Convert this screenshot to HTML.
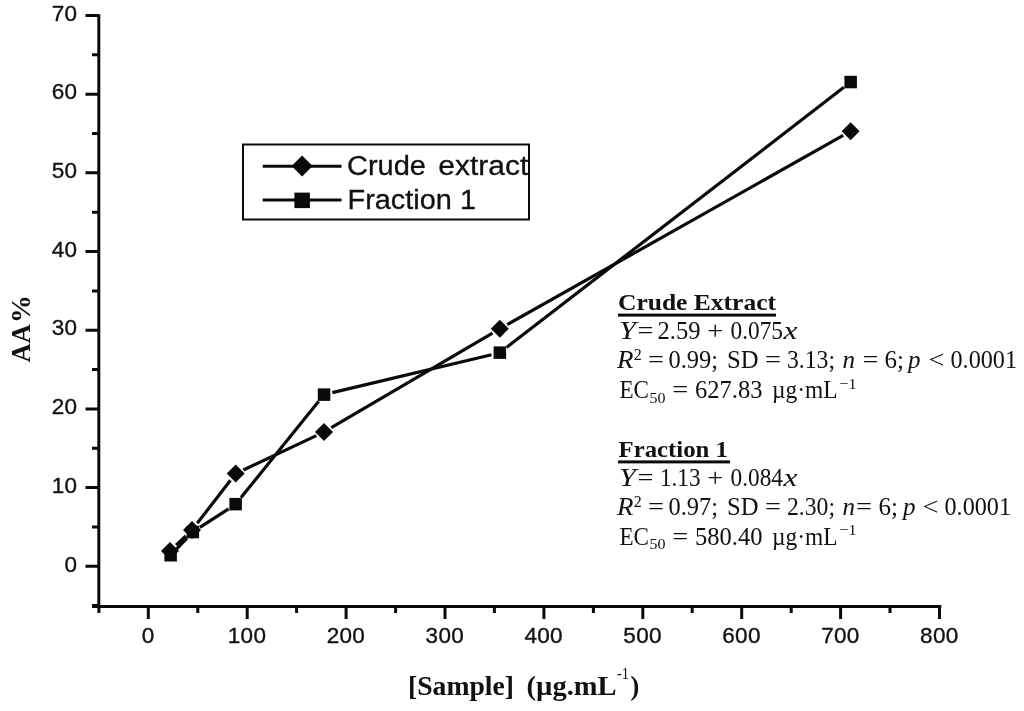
<!DOCTYPE html>
<html lang="en"><head><meta charset="utf-8"><title>AA % vs [Sample]</title>
<style>html,body{margin:0;padding:0;background:#fff}body{width:1024px;height:711px;overflow:hidden}svg{display:block}.a{font-family:"Liberation Sans",Arial,sans-serif;font-size:22.5px;fill:#111;stroke:#111;stroke-width:.35px;letter-spacing:.3px}.lg{font-family:"Liberation Sans",Arial,sans-serif;font-size:27px;fill:#111;stroke:#111;stroke-width:.3px}.t{font-family:"Liberation Serif","Times New Roman",serif;font-size:25px;fill:#111}.h{font-size:24px}.b{font-weight:bold}.i{font-style:italic}</style></head><body>
<svg width="1024" height="711" viewBox="0 0 1024 711">
<rect width="1024" height="711" fill="#fff"/>
<g stroke="#0a0a0a" stroke-width="3" fill="none" stroke-linecap="butt">
<path d="M98.8 14.2V607.9"/>
<path d="M92 606.4H941.3"/>
<path d="M85.5 566.2H98.8M85.5 487.6H98.8M85.5 408.9H98.8M85.5 330.2H98.8M85.5 251.5H98.8M85.5 172.8H98.8M85.5 94.2H98.8M85.5 15.5H98.8M92 605.6H98.8M92 526.9H98.8M92 448.2H98.8M92 369.5H98.8M92 290.9H98.8M92 212.2H98.8M92 133.5H98.8M92 54.8H98.8M148.3 606.4V619M247.2 606.4V619M346.1 606.4V619M445.0 606.4V619M543.9 606.4V619M642.8 606.4V619M741.7 606.4V619M840.6 606.4V619M939.5 606.4V619M98.9 606.4V613M197.8 606.4V613M296.6 606.4V613M395.6 606.4V613M494.4 606.4V613M593.4 606.4V613M692.2 606.4V613M791.2 606.4V613M890.0 606.4V613"/>
</g>
<g class="a" text-anchor="end">
<text x="77.3" y="571.5">0</text>
<text x="77.3" y="492.8">10</text>
<text x="77.3" y="414.1">20</text>
<text x="77.3" y="335.4">30</text>
<text x="77.3" y="256.7">40</text>
<text x="77.3" y="178.0">50</text>
<text x="77.3" y="99.4">60</text>
<text x="77.3" y="20.7">70</text>
</g>
<g class="a" text-anchor="middle">
<text x="148.1" y="643.2">0</text>
<text x="247.0" y="643.2">100</text>
<text x="345.9" y="643.2">200</text>
<text x="444.8" y="643.2">300</text>
<text x="543.7" y="643.2">400</text>
<text x="642.6" y="643.2">500</text>
<text x="741.5" y="643.2">600</text>
<text x="840.4" y="643.2">700</text>
<text x="939.3" y="643.2">800</text>
</g>
<g stroke="#0a0a0a" stroke-width="3.2" fill="none">
<path d="M176.1 545.1L185.9 535.9M197.2 523.3L230.5 480.3M243.4 470.0L316.3 435.6M331.3 427.7L492.5 333.1M507.2 324.6L843.2 135.4"/>
<path d="M176.5 549.1L187.0 538.2M199.9 527.4L228.6 508.8M241.0 497.6L318.7 401.2M332.3 392.6L491.5 354.7M506.5 347.5L843.9 87.3"/>
</g>
<g fill="#0a0a0a">
<path d="M161.0 551.0L170.0 542.0L179.0 551.0L170.0 560.0Z"/>
<path d="M183.0 530.0L192.0 521.0L201.0 530.0L192.0 539.0Z"/>
<path d="M226.7 473.6L235.7 464.6L244.7 473.6L235.7 482.6Z"/>
<path d="M315.0 432.0L324.0 423.0L333.0 432.0L324.0 441.0Z"/>
<path d="M490.8 328.8L499.8 319.8L508.8 328.8L499.8 337.8Z"/>
<path d="M841.6 131.2L850.6 122.2L859.6 131.2L850.6 140.2Z"/>
<rect x="164.4" y="549.0" width="12.5" height="12.5"/>
<rect x="186.6" y="525.8" width="12.5" height="12.5"/>
<rect x="229.4" y="497.9" width="12.5" height="12.5"/>
<rect x="317.8" y="388.4" width="12.5" height="12.5"/>
<rect x="493.6" y="346.4" width="12.5" height="12.5"/>
<rect x="844.4" y="75.8" width="12.5" height="12.5"/>
</g>
<rect x="243" y="144.5" width="286" height="75" fill="none" stroke="#0a0a0a" stroke-width="2"/>
<g stroke="#0a0a0a" stroke-width="3"><path d="M262.7 166.2H341.5M262.7 200H341.5"/></g>
<g fill="#0a0a0a"><path d="M291.6 166.0L302.1 155.5L312.6 166.0L302.1 176.5Z"/><rect x="294.4" y="192.6" width="15.5" height="15.5"/></g>
<text class="lg" y="175.2"><tspan x="347" textLength="79" lengthAdjust="spacingAndGlyphs">Crude</tspan><tspan x="438.3" textLength="90" lengthAdjust="spacingAndGlyphs">extract</tspan></text>
<text class="lg" y="209.3"><tspan x="347.5" textLength="128.5" lengthAdjust="spacingAndGlyphs">Fraction 1</tspan></text>
<text class="t b" transform="translate(30 362.5) scale(1.06 1) rotate(-90)" style="font-size:26.5px"><tspan x="0" textLength="38.3" lengthAdjust="spacingAndGlyphs">AA</tspan><tspan x="39.6" textLength="28" lengthAdjust="spacingAndGlyphs">%</tspan></text>
<text class="t b" y="694.8" style="font-size:26.5px"><tspan x="408" textLength="106" lengthAdjust="spacingAndGlyphs">[Sample]</tspan><tspan x="526.5" textLength="90" lengthAdjust="spacingAndGlyphs">(µg.mL</tspan><tspan x="617" y="679.3" textLength="12" lengthAdjust="spacingAndGlyphs" style="font-size:17px;font-weight:normal">-1</tspan><tspan x="630.5" y="694.8">)</tspan></text>
<text class="t b h" y="310.4"><tspan x="618" textLength="158" lengthAdjust="spacingAndGlyphs">Crude Extract</tspan></text>
<rect x="618" y="313.6" width="158" height="3" fill="#0a0a0a"/>
<text class="t" y="338.7"><tspan x="619" textLength="17" lengthAdjust="spacingAndGlyphs" class="i">Y</tspan><tspan x="637.5" textLength="16" lengthAdjust="spacingAndGlyphs">=</tspan><tspan x="657.5" textLength="43" lengthAdjust="spacingAndGlyphs">2.59</tspan><tspan x="707.3" textLength="16" lengthAdjust="spacingAndGlyphs">+</tspan><tspan x="730.5" textLength="52.5" lengthAdjust="spacingAndGlyphs">0.075</tspan><tspan x="783.5" textLength="14" lengthAdjust="spacingAndGlyphs" class="i">x</tspan></text>
<text class="t" y="368.4"><tspan x="617" textLength="16.5" lengthAdjust="spacingAndGlyphs" class="i">R</tspan><tspan x="633.8" y="359.9" style="font-size:16px">2</tspan><tspan x="648" y="368.4" textLength="16" lengthAdjust="spacingAndGlyphs">=</tspan><tspan x="668.5" textLength="49.5" lengthAdjust="spacingAndGlyphs">0.99;</tspan><tspan x="727" textLength="31.5" lengthAdjust="spacingAndGlyphs">SD</tspan><tspan x="765" textLength="16" lengthAdjust="spacingAndGlyphs">=</tspan><tspan x="787" textLength="48" lengthAdjust="spacingAndGlyphs">3.13;</tspan><tspan x="842.5" class="i">n</tspan><tspan x="862.5" textLength="16" lengthAdjust="spacingAndGlyphs">=</tspan><tspan x="884.5">6;</tspan><tspan x="908" class="i">p</tspan><tspan x="928.5" textLength="16" lengthAdjust="spacingAndGlyphs">&lt;</tspan><tspan x="950.5" textLength="66.5" lengthAdjust="spacingAndGlyphs">0.0001</tspan></text>
<text class="t" y="398.0"><tspan x="619.5" textLength="29.5" lengthAdjust="spacingAndGlyphs">EC</tspan><tspan x="649.5" y="402.5" textLength="16" lengthAdjust="spacingAndGlyphs" style="font-size:15.5px">50</tspan><tspan x="672.3" y="398.0" textLength="16" lengthAdjust="spacingAndGlyphs">=</tspan><tspan x="695" textLength="67.5" lengthAdjust="spacingAndGlyphs">627.83</tspan><tspan x="772" textLength="65.5" lengthAdjust="spacingAndGlyphs">µg·mL</tspan><tspan x="839.5" y="388.5" textLength="17" lengthAdjust="spacingAndGlyphs" style="font-size:15.5px">−1</tspan></text>
<text class="t b h" y="457.2"><tspan x="618.5" textLength="109.5" lengthAdjust="spacingAndGlyphs">Fraction 1</tspan></text>
<rect x="618" y="460.4" width="112" height="3" fill="#0a0a0a"/>
<text class="t" y="485.5"><tspan x="619" textLength="17" lengthAdjust="spacingAndGlyphs" class="i">Y</tspan><tspan x="637.5" textLength="16" lengthAdjust="spacingAndGlyphs">=</tspan><tspan x="660" textLength="40.5" lengthAdjust="spacingAndGlyphs">1.13</tspan><tspan x="707.3" textLength="16" lengthAdjust="spacingAndGlyphs">+</tspan><tspan x="730.5" textLength="52.5" lengthAdjust="spacingAndGlyphs">0.084</tspan><tspan x="783.5" textLength="14" lengthAdjust="spacingAndGlyphs" class="i">x</tspan></text>
<text class="t" y="515.2"><tspan x="617" textLength="16.5" lengthAdjust="spacingAndGlyphs" class="i">R</tspan><tspan x="633.8" y="506.7" style="font-size:16px">2</tspan><tspan x="648" y="515.2" textLength="16" lengthAdjust="spacingAndGlyphs">=</tspan><tspan x="668.5" textLength="49.5" lengthAdjust="spacingAndGlyphs">0.97;</tspan><tspan x="727" textLength="31.5" lengthAdjust="spacingAndGlyphs">SD</tspan><tspan x="765" textLength="16" lengthAdjust="spacingAndGlyphs">=</tspan><tspan x="787" textLength="48" lengthAdjust="spacingAndGlyphs">2.30;</tspan><tspan x="842.5" class="i">n</tspan><tspan x="856" textLength="16" lengthAdjust="spacingAndGlyphs">=</tspan><tspan x="878.5">6;</tspan><tspan x="903" class="i">p</tspan><tspan x="922.5" textLength="16" lengthAdjust="spacingAndGlyphs">&lt;</tspan><tspan x="944.5" textLength="66.5" lengthAdjust="spacingAndGlyphs">0.0001</tspan></text>
<text class="t" y="544.8"><tspan x="619.5" textLength="29.5" lengthAdjust="spacingAndGlyphs">EC</tspan><tspan x="649.5" y="549.3" textLength="16" lengthAdjust="spacingAndGlyphs" style="font-size:15.5px">50</tspan><tspan x="672.3" y="544.8" textLength="16" lengthAdjust="spacingAndGlyphs">=</tspan><tspan x="695" textLength="67.5" lengthAdjust="spacingAndGlyphs">580.40</tspan><tspan x="772" textLength="65.5" lengthAdjust="spacingAndGlyphs">µg·mL</tspan><tspan x="839.5" y="535.3" textLength="17" lengthAdjust="spacingAndGlyphs" style="font-size:15.5px">−1</tspan></text>
</svg></body></html>
